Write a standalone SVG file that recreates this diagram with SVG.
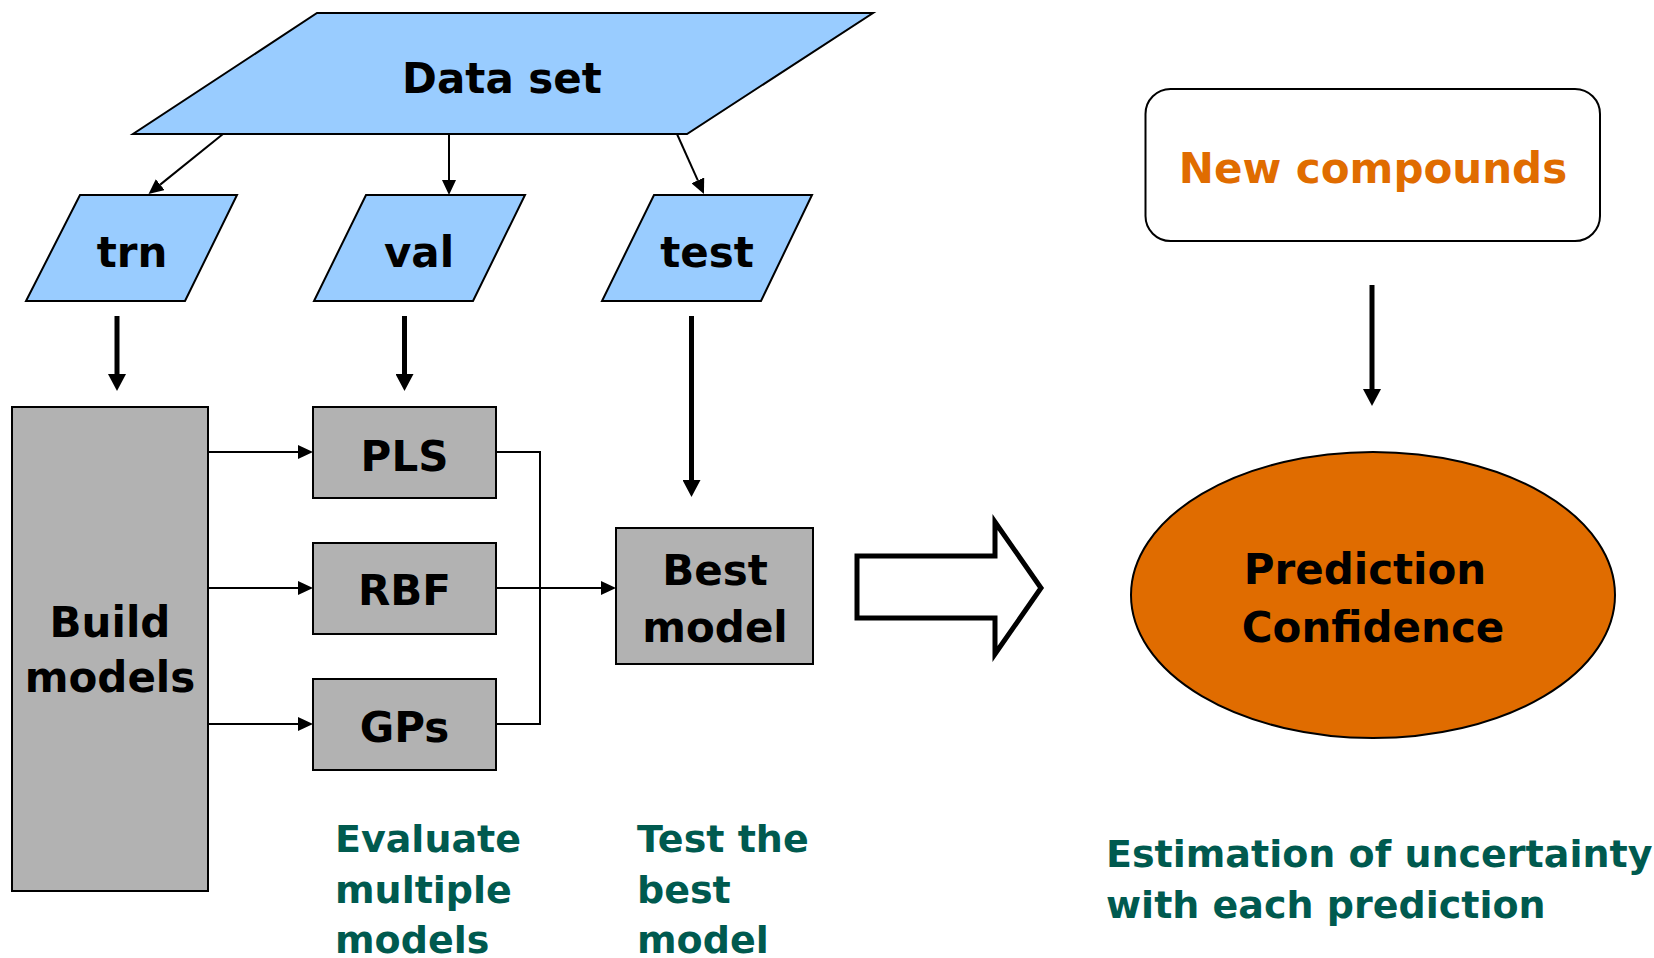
<svg xmlns="http://www.w3.org/2000/svg" width="1654" height="958" viewBox="0 0 1654 958">
<style>
text{font-family:"DejaVu Sans",Verdana,sans-serif;font-weight:bold}
.lbl{font-size:42px;fill:#000;text-anchor:middle}
.blue{fill:#99ccff;stroke:#000;stroke-width:2}
.gray{fill:#b2b2b2;stroke:#000;stroke-width:2}
.note{font-size:38px;fill:#005a4f}
.thin{fill:none;stroke:#000;stroke-width:2}
.thick{fill:none;stroke:#000;stroke-width:5}
</style>
<defs>
<marker id="ah" markerUnits="userSpaceOnUse" markerWidth="16" markerHeight="14" refX="0" refY="7" orient="auto">
<path d="M0,0 L15,7 L0,14 z" fill="#000"/>
</marker>
<marker id="ahb" markerUnits="userSpaceOnUse" markerWidth="18" markerHeight="18" refX="0" refY="9" orient="auto">
<path d="M0,0 L17,9 L0,18 z" fill="#000"/>
</marker>
</defs>
<rect width="1654" height="958" fill="#fff"/>

<g id="connectors">
<path class="thin" d="M223,134 L160.2,184.6" marker-end="url(#ah)"/>
<path class="thin" d="M449,134 L449,180" marker-end="url(#ah)"/>
<path class="thin" d="M677,134 L697.8,180.3" marker-end="url(#ah)"/>
<path class="thick" d="M117,316 L117,374" marker-end="url(#ahb)"/>
<path class="thick" d="M404.5,316 L404.5,374" marker-end="url(#ahb)"/>
<path class="thick" d="M691.5,316 L691.5,480" marker-end="url(#ahb)"/>
<path class="thick" d="M1372,285 L1372,389" marker-end="url(#ahb)"/>
<path class="thin" d="M208,452 L298,452" marker-end="url(#ah)"/>
<path class="thin" d="M208,588 L298,588" marker-end="url(#ah)"/>
<path class="thin" d="M208,724 L298,724" marker-end="url(#ah)"/>
<path class="thin" d="M496,452 L540,452 L540,724 L496,724"/>
<path class="thin" d="M496,588 L601,588" marker-end="url(#ah)"/>
<polygon points="857,556 995,556 995,522 1041,588 995,654 995,618 857,618" fill="#fff" stroke="#000" stroke-width="5"/>
</g>

<g id="dataset">
<polygon class="blue" points="317,13 873,13 687,134 133,134"/>
<text class="lbl" x="502" y="93" font-size="41">Data set</text>
</g>
<g id="trn">
<polygon class="blue" points="80,195 237,195 185,301 26,301"/>
<text class="lbl" x="132" y="267">trn</text>
</g>
<g id="val">
<polygon class="blue" points="366,195 525,195 473,301 314,301"/>
<text class="lbl" x="419" y="267">val</text>
</g>
<g id="test">
<polygon class="blue" points="654,195 812,195 761,301 602,301"/>
<text class="lbl" x="707" y="267">test</text>
</g>
<g id="build">
<rect class="gray" x="12" y="407" width="196" height="484"/>
<text class="lbl" x="110" y="637">Build</text>
<text class="lbl" x="110" y="692">models</text>
</g>
<g id="pls">
<rect class="gray" x="313" y="407" width="183" height="91"/>
<text class="lbl" x="404.5" y="471">PLS</text>
</g>
<g id="rbf">
<rect class="gray" x="313" y="543" width="183" height="91"/>
<text class="lbl" x="404.5" y="605">RBF</text>
</g>
<g id="gps">
<rect class="gray" x="313" y="679" width="183" height="91"/>
<text class="lbl" x="404.5" y="742">GPs</text>
</g>
<g id="best">
<rect class="gray" x="616" y="528" width="197" height="136"/>
<text class="lbl" x="715" y="585">Best</text>
<text class="lbl" x="715" y="642">model</text>
</g>
<g id="newcompounds">
<rect x="1145.5" y="89" width="454.5" height="152" rx="25" ry="25" fill="#fff" stroke="#000" stroke-width="2"/>
<text class="lbl" x="1373" y="183" style="fill:#e06c00">New compounds</text>
</g>
<g id="prediction">
<ellipse cx="1373" cy="595" rx="242" ry="143" fill="#e06c00" stroke="#000" stroke-width="2"/>
<text class="lbl" x="1365" y="584">Prediction</text>
<text class="lbl" x="1373" y="642">Confidence</text>
</g>
<g id="notes">
<text class="note" x="335" y="852">Evaluate</text>
<text class="note" x="335" y="903">multiple</text>
<text class="note" x="335" y="953">models</text>
<text class="note" x="637" y="852">Test the</text>
<text class="note" x="637" y="903">best</text>
<text class="note" x="637" y="953">model</text>
<text class="note" x="1106" y="867">Estimation of uncertainty</text>
<text class="note" x="1106" y="918">with each prediction</text>
</g>
</svg>
